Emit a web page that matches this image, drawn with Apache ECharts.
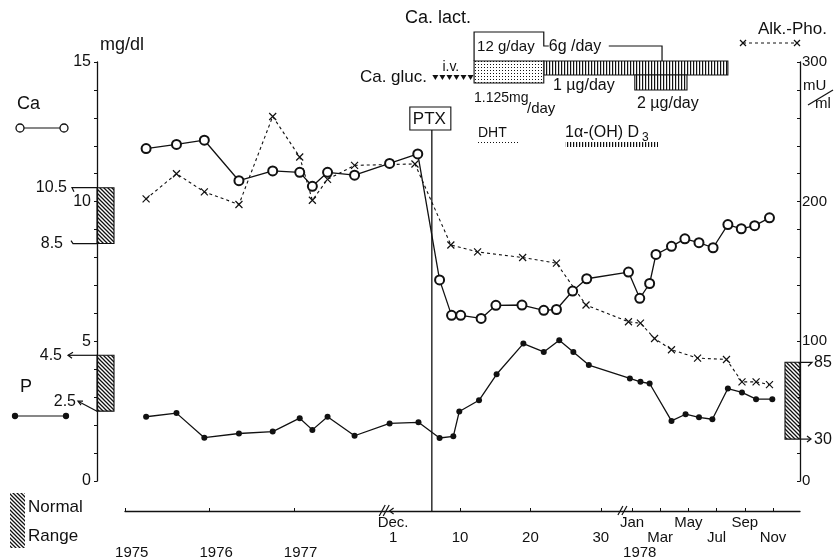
<!DOCTYPE html>
<html>
<head>
<meta charset="utf-8">
<script src="https://cdn.jsdelivr.net/npm/echarts@6/dist/echarts.min.js"></script>
<style>html,body{margin:0;background:#fff}#chart{width:840px;height:560px}</style>
</head>
<body>
<div id="chart"></div>
<script>
const FONT = "'Liberation Sans', Arial, sans-serif";
const INK = '#111';

// pre-operative check-ups, 1975-1977 (fractional year)
const preYears = [1975.25, 1975.61, 1975.94, 1976.35, 1976.75, 1977.07, 1977.22, 1977.40, 1977.72];
const caPre  = [11.9, 12.05, 12.2, 10.75, 11.1, 11.05, 10.55, 11.05, 10.95];
const pPre   = [2.3, 2.43, 1.55, 1.7, 1.77, 2.25, 1.83, 2.3, 1.62];
const alkPre = [202, 220, 207, 198, 261, 232, 201, 216, 226];

// December (day of month)
const caDecDays  = [0, 4, 7.1, 8.8, 10.1, 13, 15.1, 18.8, 21.9, 23.7, 26, 28];
const caDec      = [11.37, 11.71, 7.2, 5.93, 5.93, 5.82, 6.29, 6.3, 6.11, 6.14, 6.8, 7.24];
const pDecDays   = [0, 4.1, 7.1, 9.05, 9.9, 12.7, 15.2, 19, 21.9, 24.1, 26.1, 28.3];
const pDec       = [2.06, 2.1, 1.54, 1.6, 2.49, 2.89, 3.82, 4.92, 4.62, 5.04, 4.62, 4.15];
const alkDecDays = [3.6, 8.7, 12.5, 18.9, 23.7, 27.9];
const alkDec     = [227, 169, 164, 160, 156, 126];

// 1978 (month, Jan = 1)
const caMonths  = [0.75, 1.55, 2.25, 2.7, 3.8, 4.75, 5.75, 6.75, 7.8, 8.75, 9.7, 10.75];
const ca78      = [7.48, 6.54, 7.07, 8.11, 8.4, 8.67, 8.53, 8.35, 9.18, 9.03, 9.14, 9.42];
const pMonths   = [0.85, 1.6, 2.25, 3.8, 4.8, 5.75, 6.7, 7.8, 8.8, 9.8, 10.95];
const p78       = [3.67, 3.55, 3.49, 2.15, 2.39, 2.28, 2.21, 3.31, 3.17, 2.93, 2.93];
const alkMonths = [0.75, 1.6, 2.6, 3.8, 5.65, 7.7, 8.8, 9.8, 10.75];
const alk78     = [114, 113, 102, 94, 88, 87, 71, 71, 69];

// axis ticks / labels
const yearTicks   = [1975, 1976, 1977];
const yearLabels  = ['1975', '1976', '1977'];
const decTicks    = [10, 20, 30];
const decLabelDays = [0.5, 10, 20, 30];
const decLabels   = ['Dec.\n1', '\n10', '\n20', '\n30'];
const monthTicks  = [1, 3, 5, 7, 9, 11];
const monthLabels = ['Jan', '\nMar', 'May', '\nJul', 'Sep', '\nNov'];

// normal ranges
const caNormal  = [8.5, 10.5];
const pNormal   = [2.5, 4.5];
const alkNormal = [30, 85];

// surgery and treatment
const ptxDay = 6;
const ivDays = [6.5, 7.5, 8.5, 9.5, 10.5, 11.5];          // Ca. gluc. i.v.
const lactStartDay = 12, lactSwitchDay = 21.9, lactEndMonth = 3.13; // 12 g -> 6 g/day
const dhtDays = [12, 21.9];                                 // 1.125 mg/day
const d3StartDay = 21.9, d3EndMonth = 7.8;                  // 1 µg/day
const d3HighMonths = [1.2, 4.9];                            // 2 µg/day

// broken time axis: three segments on one value axis
const yearX = y => (y - 1975) * 84.4;
const decX  = d => 335 + (d - 10) * 7.04;
const monX  = m => 507 + (m - 1) * 14.1;

const join = (ax, ay, bx, by, cx, cy) =>
  ax.map((t, i) => [yearX(t), ay[i]])
    .concat(bx.map((t, i) => [decX(t), by[i]]))
    .concat(cx.map((t, i) => [monX(t), cy[i]]));

const caData  = join(preYears, caPre, caDecDays, caDec, caMonths, ca78);
const pData   = join(preYears, pPre, pDecDays, pDec, pMonths, p78);
const alkData = join(preYears, alkPre, alkDecDays, alkDec, alkMonths, alk78);

const labelItems = []
  .concat(yearLabels.map((t, i) => ({ u: yearX(yearTicks[i] + 0.08), text: '\n\n' + t })))
  .concat(decLabels.map((t, i) => ({ u: decX(decLabelDays[i]), text: t })))
  .concat(monthLabels.map((t, i) => ({ u: monX(monthTicks[i]), text: t })))
  .concat([{ u: monX(1.55), text: '\n\n1978' }]);
const tickValues = yearTicks.map(yearX).concat(decTicks.map(decX), monthTicks.map(monX));

const crossPath = 'path://M0,0L10,10M10,0L0,10';

const chart = echarts.init(document.getElementById('chart'));
chart.setOption({
  animation: false,
  backgroundColor: '#fff',
  textStyle: { fontFamily: FONT, color: INK },
  grid: { left: 125, right: 40, top: 62, bottom: 78 },
  xAxis: {
    type: 'value', min: 0, max: 675, offset: 30,
    axisLine: { onZero: false, lineStyle: { color: INK, width: 1.3 } },
    axisTick: { customValues: tickValues, inside: true, length: 3, lineStyle: { color: INK } },
    splitLine: { show: false },
    axisLabel: {
      customValues: labelItems.map(d => d.u),
      margin: 4, fontSize: 15, lineHeight: 15, color: INK, fontFamily: FONT,
      formatter: v => (labelItems.find(d => Math.abs(d.u - v) < 1e-6) || { text: '' }).text
    }
  },
  yAxis: [
    {
      type: 'value', position: 'left', offset: 28, min: 0, max: 15, interval: 1,
      axisLine: { show: true, onZero: false, lineStyle: { color: INK, width: 1.3 } },
      axisTick: { show: true, length: 3, lineStyle: { color: INK } },
      splitLine: { show: false },
      axisLabel: { customValues: [0, 5, 10, 15], margin: 6, fontSize: 16, color: INK, fontFamily: FONT }
    },
    {
      type: 'value', position: 'right', min: 0, max: 300, interval: 20,
      axisLine: { show: true, onZero: false, lineStyle: { color: INK, width: 1.3 } },
      axisTick: { show: true, inside: true, length: 3, lineStyle: { color: INK } },
      splitLine: { show: false },
      axisLabel: { customValues: [0, 100, 200, 300], margin: 2, fontSize: 15, color: INK, fontFamily: FONT }
    }
  ],
  series: [
    {
      name: 'Alk.-Pho.', type: 'line', yAxisIndex: 1, data: alkData,
      symbol: crossPath, symbolSize: 7,
      lineStyle: { color: INK, width: 1.1, type: [3, 3] },
      itemStyle: { color: INK, borderColor: INK, borderWidth: 1.2 }
    },
    {
      name: 'P', type: 'line', data: pData,
      symbol: 'circle', symbolSize: 6,
      lineStyle: { color: INK, width: 1.3 },
      itemStyle: { color: INK }
    },
    {
      name: 'Ca', type: 'line', data: caData,
      symbol: 'emptyCircle', symbolSize: 9,
      lineStyle: { color: INK, width: 1.3 },
      itemStyle: { color: INK, borderWidth: 1.4 }
    }
  ]
});

// ---- decorations placed from the chart's own scales ----
const xPx = u => chart.convertToPixel({ xAxisIndex: 0 }, u);
const yL  = v => chart.convertToPixel({ yAxisIndex: 0 }, v);
const yR  = v => chart.convertToPixel({ yAxisIndex: 1 }, v);
const leftAx = xPx(0) - 28, rightAx = xPx(675), baseY = yL(0) + 30;

function pattern(kind) {
  const s = kind === 'diag' ? 4 : 3;
  const c = document.createElement('canvas');
  c.width = s; c.height = s;
  const g = c.getContext('2d');
  g.fillStyle = '#fff'; g.fillRect(0, 0, s, s);
  g.fillStyle = INK; g.strokeStyle = INK;
  if (kind === 'diag') {
    g.lineWidth = 1.3;
    g.beginPath();
    g.moveTo(-1, -1); g.lineTo(s + 1, s + 1);
    g.moveTo(s - 1, -1); g.lineTo(s + 1, 1);
    g.moveTo(-1, s - 1); g.lineTo(1, s + 1);
    g.stroke();
  } else if (kind === 'vert') {
    g.fillRect(0, 0, 1.2, s);
  } else {
    g.fillRect(1, 1, 1, 1);
  }
  return { image: c, repeat: 'repeat' };
}
const diag = pattern('diag'), vert = pattern('vert'), dots = pattern('dots');

const els = [];
const txt = (x, y, text, size, align) => els.push({
  type: 'text', x, y, silent: true,
  style: { text, fill: INK, font: (size || 16) + 'px ' + FONT, textAlign: align || 'left', textVerticalAlign: 'middle' }
});
const poly = (pts, dash, w) => els.push({
  type: 'polyline', silent: true, shape: { points: pts },
  style: { stroke: INK, lineWidth: w || 1.2, fill: null, lineDash: dash || null }
});
const box = (x1, y1, x2, y2, fill, stroke) => els.push({
  type: 'rect', silent: true, shape: { x: x1, y: y1, width: x2 - x1, height: y2 - y1 },
  style: { fill, stroke: stroke === false ? null : INK, lineWidth: 1.1 }
});
const dot = (x, y, r, fill) => els.push({
  type: 'circle', silent: true, shape: { cx: x, cy: y, r }, style: { fill, stroke: INK, lineWidth: 1.3 }
});
const cross = (x, y) => { poly([[x - 3, y - 3], [x + 3, y + 3]]); poly([[x + 3, y - 3], [x - 3, y + 3]]); };

// normal-range boxes on the axes
box(leftAx, yL(caNormal[1]), leftAx + 17, yL(caNormal[0]), diag);
box(leftAx, yL(pNormal[1]), leftAx + 17, yL(pNormal[0]), diag);
box(rightAx - 15, yR(alkNormal[1]), rightAx, yR(alkNormal[0]), diag);

// range marks
let y;
y = yL(caNormal[1]); poly([[74, y + 4], [72, y], [leftAx, y]]); txt(67, y, '10.5', 16, 'right');
y = yL(caNormal[0]); poly([[71, y - 3], [73, y], [leftAx, y]]); txt(63, y, '8.5', 16, 'right');
y = yL(pNormal[1]);  poly([[68, y], [leftAx, y]]); poly([[73, y - 3], [68, y], [72, y + 3]]); txt(62, y, '4.5', 16, 'right');
y = yL(pNormal[0]);  poly([[78, y - 10], [leftAx, y]]); poly([[83, y - 10], [78, y - 10], [81, y - 6]]); txt(76, y - 10, '2.5', 16, 'right');
y = yR(alkNormal[1]); poly([[rightAx, y], [812, y], [808, y + 4]]); txt(814, y, '85', 16);
y = yR(alkNormal[0]); poly([[rightAx, y], [811, y]]); poly([[807, y - 3], [811, y], [807, y + 3]]); txt(814, y, '30', 16);

// units and legends
txt(100, 45, 'mg/dl', 18);
txt(17, 104, 'Ca', 18);
poly([[20, 128], [64, 128]]); dot(20, 128, 4, '#fff'); dot(64, 128, 4, '#fff');
txt(20, 387, 'P', 18);
poly([[15, 416], [66, 416]]); dot(15, 416, 2.5, INK); dot(66, 416, 2.5, INK);
box(10, 493, 25, 548, diag, false);
txt(28, 507, 'Normal', 17); txt(28, 536, 'Range', 17);
txt(758, 29, 'Alk.-Pho.', 17);
poly([[743, 43], [797, 43]], [3, 3], 1); cross(743, 43); cross(797, 43);
txt(803, 86, 'mU', 15); poly([[808, 105], [833, 90]]); txt(815, 104, 'ml', 15);

// axis breaks
const b1 = xPx(yearX(1978));
poly([[b1 + 1, baseY + 5], [b1 + 7, baseY - 6]]);
poly([[b1 + 5, baseY + 5], [b1 + 11, baseY - 6]]);
poly([[xPx(decX(0)) + 4, baseY - 3], [xPx(decX(0)), baseY], [xPx(decX(0)) + 4, baseY + 3]]);
const brk = (xPx(decX(31)) + xPx(monX(1))) / 2 + 2;
poly([[brk - 4, baseY + 4], [brk + 1, baseY - 5]]);
poly([[brk, baseY + 4], [brk + 5, baseY - 5]]);

// PTX
const ptxX = xPx(decX(ptxDay));
poly([[ptxX, 130], [ptxX, baseY]], null, 1.3);
box(ptxX - 22, 107, ptxX + 19, 130, '#fff');
txt(ptxX - 2.5, 119, 'PTX', 17, 'center');

// Ca. gluc. i.v.
txt(427, 77, 'Ca. gluc.', 17, 'right');
txt(xPx(decX(ivDays[1])), 67, 'i.v.', 14);
ivDays.forEach(d => {
  const x = xPx(decX(d));
  els.push({ type: 'polygon', silent: true, shape: { points: [[x - 3, 75], [x + 3, 75], [x, 80]] }, style: { fill: INK } });
});

// Ca. lact.
const l0 = xPx(decX(lactStartDay)), l1 = xPx(decX(lactSwitchDay)), l2 = xPx(monX(lactEndMonth));
txt(405, 18, 'Ca. lact.', 18);
poly([[l0, 61], [l0, 32], [l1, 32], [l1, 46], [l1 + 5, 46]]);
poly([[l1 + 65, 46], [l2, 46], [l2, 61]]);
txt(l0 + 3, 47, '12 g/day', 15);
txt(l1 + 5, 47, '6g /day', 16);

// 1α-(OH)D3 and DHT bars
const d0 = xPx(decX(d3StartDay)), d1 = xPx(monX(d3EndMonth));
box(d0, 61, d1, 75, vert);
box(xPx(monX(d3HighMonths[0])), 75, xPx(monX(d3HighMonths[1])), 90, vert);
box(xPx(decX(dhtDays[0])), 61, xPx(decX(dhtDays[1])), 83, dots);
txt(553, 86, '1 µg/day', 16);
txt(637, 104, '2 µg/day', 16);
txt(l0, 98, '1.125mg', 14);
txt(527, 109, '/day', 15);
txt(478, 133, 'DHT', 14);
box(478, 140, 520, 145, dots, false);
txt(565, 133, '1α-(OH) D', 16);
txt(642, 138, '3', 12);
box(565, 142, 658, 147, vert, false);

chart.setOption({ graphic: { elements: els } });
</script>
</body>
</html>
